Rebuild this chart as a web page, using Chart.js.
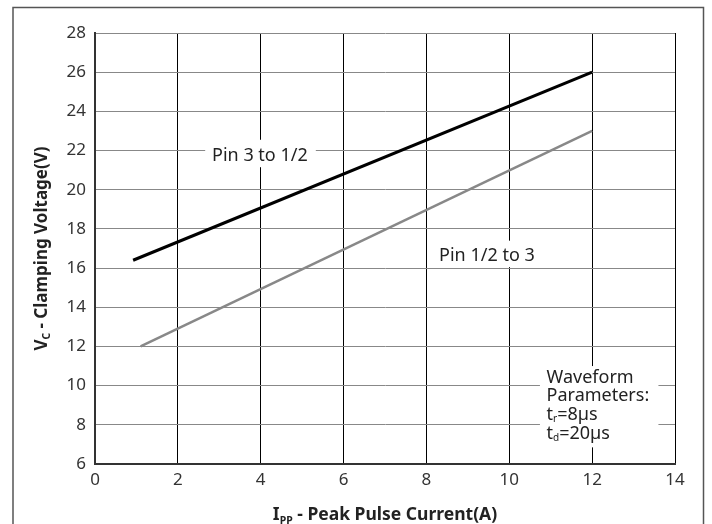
<!DOCTYPE html>
<html>
<head>
<meta charset="utf-8">
<script src="https://cdn.jsdelivr.net/npm/chart.js@4/dist/chart.umd.min.js"></script>
<style>
  html, body { margin: 0; padding: 0; background: #fff; }
  #wrap { width: 712px; height: 524px; position: relative; }
</style>
</head>
<body>
<div id="wrap"><canvas id="myChart" width="712" height="524"></canvas></div>
<script>
// values
let xTicks = [0, 2, 4, 6, 8, 10, 12, 14];
let yTicks = [6, 8, 10, 12, 14, 16, 18, 20, 22, 24, 26, 28];
let pin3to12 = [{x: 0.92, y: 16.4}, {x: 12, y: 26}];
let pin12to3 = [{x: 1.1, y: 12}, {x: 12, y: 23}];

let font = '"Noto Sans", sans-serif';

// labels placed in data coords, box = [x1, y1, x2, y2]
let notes = [
  {x: 3.98, y: 21.75, lines: ['Pin 3 to 1/2'], box: [2.66, 22.55, 5.33, 21.15]},
  {x: 9.46, y: 16.62, lines: ['Pin 1/2 to 3'], box: [8.08, 17.4, 10.86, 16.05]},
];

// text with subscript pieces: [text, sub?]
function drawRich(c, parts, size, bold) {
  let w = 0;
  parts.forEach(p => {
    c.font = (bold ? 'bold ' : '') + (p[1] ? size * 0.6 : size) + 'px ' + font;
    w += c.measureText(p[0]).width;
  });
  let x = -w / 2;
  parts.forEach(p => {
    c.font = (bold ? 'bold ' : '') + (p[1] ? size * 0.6 : size) + 'px ' + font;
    c.fillText(p[0], x, p[1] ? size * 0.2 : 0);
    x += c.measureText(p[0]).width;
  });
}

let extras = {
  id: 'extras',
  beforeDatasetsDraw(chart) {
    let c = chart.ctx, xs = chart.scales.x, ys = chart.scales.y;
    c.save();
    c.fillStyle = '#fff';
    notes.forEach(n => {
      let b = n.box;
      c.fillRect(xs.getPixelForValue(b[0]), ys.getPixelForValue(b[1]),
        xs.getPixelForValue(b[2]) - xs.getPixelForValue(b[0]),
        ys.getPixelForValue(b[3]) - ys.getPixelForValue(b[1]));
    });
    // waveform box
    let bx = xs.getPixelForValue(10.74), by = ys.getPixelForValue(11.0);
    c.fillRect(bx, by, xs.getPixelForValue(13.6) - bx, ys.getPixelForValue(6.85) - by);
    c.restore();
  },
  afterDraw(chart) {
    let c = chart.ctx, xs = chart.scales.x, ys = chart.scales.y, a = chart.chartArea;
    c.save();
    c.fillStyle = '#222';
    c.textBaseline = 'middle';
    c.textAlign = 'center';
    c.font = '18px ' + font;
    notes.forEach(n => {
      c.fillText(n.lines[0], xs.getPixelForValue(n.x), ys.getPixelForValue(n.y));
    });
    // waveform parameters
    c.textAlign = 'left';
    let lx = xs.getPixelForValue(10.9);
    let ly = ys.getPixelForValue(10.4);
    c.fillText('Waveform', lx, ly);
    c.fillText('Parameters:', lx, ly + 18.5);
    let subLine = (main, sub, rest, y) => {
      c.font = '18px ' + font;
      c.fillText(main, lx, y);
      let w = c.measureText(main).width;
      c.font = '10px ' + font;
      c.fillText(sub, lx + w, y + 4);
      let w2 = c.measureText(sub).width;
      c.font = '18px ' + font;
      c.fillText(rest, lx + w + w2, y);
    };
    subLine('t', 'r', '=8µs', ly + 37);
    subLine('t', 'd', '=20µs', ly + 56);

    // axis titles
    c.textAlign = 'left';
    c.textBaseline = 'alphabetic';
    c.save();
    c.translate((a.left + a.right) / 2, 520);
    drawRich(c, [['I', false], ['PP', true], [' - Peak Pulse Current(A)', false]], 17.5, true);
    c.restore();
    c.save();
    c.translate(47, (a.top + a.bottom) / 2);
    c.rotate(-Math.PI / 2);
    drawRich(c, [['V', false], ['C', true], [' - Clamping Voltage(V)', false]], 17, true);
    c.restore();

    // outer frame
    c.strokeStyle = '#555';
    c.lineWidth = 1.5;
    c.strokeRect(13, 7.5, 690.5, 530);
    c.restore();
  }
};

let ctx = document.getElementById('myChart').getContext('2d');

let myChart = new Chart(ctx, {
  type: 'scatter',
  data: {
    datasets: [{
      data: pin3to12,
      showLine: true,
      borderColor: '#000',
      borderWidth: 3,
      pointRadius: 0
    }, {
      data: pin12to3,
      showLine: true,
      borderColor: '#888',
      borderWidth: 2.5,
      pointRadius: 0
    }]
  },
  options: {
    responsive: false,
    animation: false,
    layout: {
      padding: {left: 0, top: 33, right: 37, bottom: 0}
    },
    plugins: {
      legend: {display: false},
      tooltip: {enabled: false}
    },
    scales: {
      x: {
        min: 0,
        max: 14,
        afterBuildTicks: (s) => { s.ticks = xTicks.map(v => ({value: v})); },
        afterFit: (s) => { s.height = 60; },
        grid: {color: '#000', lineWidth: 1, drawTicks: false},
        border: {color: '#333', width: 2},
        ticks: {color: '#333', padding: 6, font: {family: font, size: 17}}
      },
      y: {
        min: 6,
        max: 28,
        afterBuildTicks: (s) => { s.ticks = yTicks.map(v => ({value: v})); },
        afterFit: (s) => { s.width = 95; },
        grid: {color: '#888', lineWidth: 1, drawTicks: false},
        border: {color: '#333', width: 2},
        ticks: {color: '#333', padding: 9, font: {family: font, size: 17}}
      }
    }
  },
  plugins: [extras]
});
</script>
</body>
</html>
